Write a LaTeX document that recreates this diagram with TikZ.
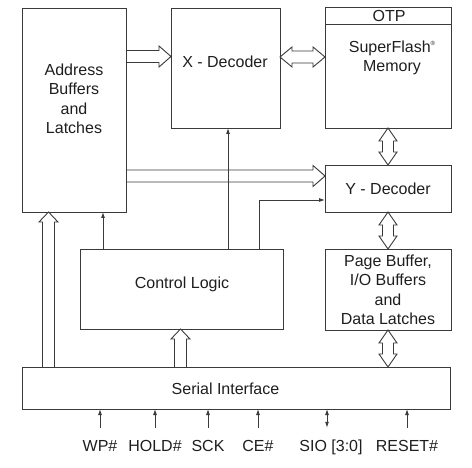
\documentclass[tikz,border=0pt]{standalone}
\usepackage{fontspec}
\setmainfont{Liberation Sans}
\usetikzlibrary{arrows.meta,calc}
\definecolor{lc}{HTML}{3A3A3A}
\definecolor{tc}{HTML}{1E1E1E}
% horizontal hollow arrow, head at right: x1, x2, y
\newcommand\hArrowR[3]{\draw[conn] (#1,#3-6) -- (#2-12,#3-6) -- (#2-12,#3-10.5) -- (#2,#3) -- (#2-12,#3+10.5) -- (#2-12,#3+6) -- (#1,#3+6);}
% horizontal hollow double arrow: x1, x2, y
\newcommand\hArrowLR[3]{\draw[conn] (#1+12,#3-6) -- (#2-12,#3-6) -- (#2-12,#3-10) -- (#2,#3) -- (#2-12,#3+10) -- (#2-12,#3+6) -- (#1+12,#3+6) -- (#1+12,#3+10) -- (#1,#3) -- (#1+12,#3-10) -- cycle;}
% vertical hollow arrow upward: x, ystart(bottom), ytip(top)
\newcommand\vArrowUp[3]{\draw[conn] (#1-6,#2) -- (#1-6,#3+10) -- (#1-9.5,#3+10) -- (#1,#3) -- (#1+9.5,#3+10) -- (#1+6,#3+10) -- (#1+6,#2);}
% vertical hollow double arrow: x, ytop, ybottom
\newcommand\vArrowUD[3]{\draw[conn] (#1-5.5,#2+13) -- (#1-5.5,#3-13) -- (#1-9,#3-13) -- (#1,#3) -- (#1+9,#3-13) -- (#1+5.5,#3-13) -- (#1+5.5,#2+13) -- (#1+9,#2+13) -- (#1,#2) -- (#1-9,#2+13) -- cycle;}
\begin{document}
\begin{tikzpicture}[x=1pt,y=-1pt,
  box/.style={draw=lc, line width=0.9pt, inner sep=0pt, outer sep=0pt, anchor=north west},
  txt/.style={font=\fontsize{16}{19.5}\selectfont, text=tc, align=center, inner sep=0pt},
  conn/.style={draw=lc, line width=0.9pt, line join=miter},
  sig/.style={draw=lc, line width=0.9pt, -{Latex[length=6pt,width=4pt]}},
  pinlab/.style={txt, text height=11pt, text depth=3pt}]
\useasboundingbox (0,0) rectangle (472,468);
% boxes
\node[box, minimum width=104pt, minimum height=204pt] (addr) at (22,8) {};
\node[box, minimum width=109pt, minimum height=120pt] (xdec) at (171,8) {};
\node[box, minimum width=126pt, minimum height=121pt] (mem) at (325,7) {};
\node[box, minimum width=126pt, minimum height=47pt] (ydec) at (325,165) {};
\node[box, minimum width=126pt, minimum height=81pt] (page) at (325,249) {};
\node[box, minimum width=203pt, minimum height=80pt] (ctrl) at (80,249) {};
\node[box, minimum width=428pt, minimum height=42pt] (serial) at (22,367) {};
\draw[conn] ([yshift=-17pt]mem.north west) -- ([yshift=-17pt]mem.north east);
% texts
\node[txt] (addrT) at (74,99) {Address\\Buffers\\and\\Latches};
\node[txt] (xdecT) at (225,62) {X - Decoder};
\node[txt] (otpT) at (389,16) {OTP};
\node[txt] (memT) at (392,58) {SuperFlash\raisebox{0.85ex}{\fontsize{6}{6}\selectfont ®}\\Memory};
\node[txt] (ydecT) at (388,189) {Y - Decoder};
\node[txt] (pageT) at (388,290) {Page Buffer,\\I/O Buffers\\and\\Data Latches};
\node[txt] (ctrlT) at (182,284) {Control Logic};
\node[txt] (serT) at (225.5,389) {Serial Interface};
% hollow buses
\hArrowR{126}{171}{56.5}
\hArrowLR{280}{325}{57}
\hArrowR{126}{325}{176}
\vArrowUD{388}{128}{165}
\vArrowUD{388}{212}{249}
\vArrowUD{388}{330}{367}
\vArrowUp{48.5}{367}{212}
\vArrowUp{180.5}{367}{329}
% control lines
\coordinate (cx) at (228,0);
\coordinate (ca) at (103,0);
\coordinate (cy) at (259,200);
\draw[sig] (cx |- ctrl.north) -- (cx |- xdec.south);
\draw[sig] (ca |- ctrl.north) -- (ca |- addr.south);
\draw[sig] (cy |- ctrl.north) -- (cy) -- (ydec.west |- cy);
% pins
\node[pinlab] (wp) at (100,447) {WP\#};
\node[pinlab] (hold) at (155,447) {HOLD\#};
\node[pinlab] (sck) at (208,447) {SCK};
\node[pinlab] (ce) at (258,447) {CE\#};
\node[pinlab] (sio) at (331,447) {SIO [3:0]};
\node[pinlab] (reset) at (407,447) {RESET\#};
\foreach \p in {wp,hold,sck,ce,reset}
  \draw[sig] ([yshift=12pt]\p.north) -- (\p.north |- serial.south);
\coordinate (sioc) at (327,0);
\path ([yshift=12pt]sio.north) coordinate (siotop);
\draw[sig, {Latex[length=6pt,width=4pt]}-{Latex[length=6pt,width=4pt]}] (sioc |- siotop) -- (sioc |- serial.south);
\end{tikzpicture}
\end{document}
